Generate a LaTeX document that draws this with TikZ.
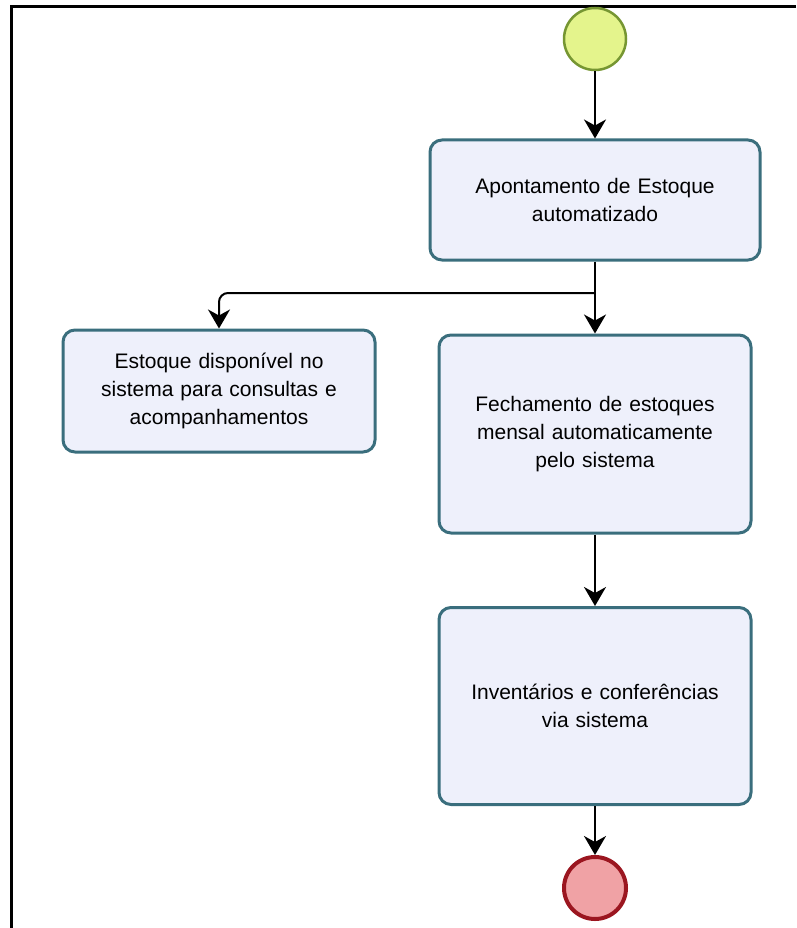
\documentclass[tikz,border=0pt]{standalone}
\usepackage{fontspec}
\setmainfont{Liberation Sans}
\usetikzlibrary{arrows.meta}
\definecolor{taskfill}{RGB}{238,240,251}
\definecolor{taskline}{RGB}{58,110,125}
\definecolor{startfill}{RGB}{228,244,140}
\definecolor{startline}{RGB}{118,150,50}
\definecolor{endfill}{RGB}{240,162,165}
\definecolor{endline}{RGB}{155,22,32}

\begin{document}
\begin{tikzpicture}[x = 1pt, y = -1pt]
\tikzstyle{taskStyle} = [shape = rectangle, rounded corners = 12pt, draw = taskline, line width = 3pt, fill = taskfill, align = center, text width = 290pt, font = \fontsize{21}{28}\selectfont]
\tikzstyle{startStyle} = [shape = circle, minimum size = 62pt, inner sep = 0pt, draw = startline, line width = 2.5pt, fill = startfill]
\tikzstyle{endStyle} = [shape = circle, minimum size = 62pt, inner sep = 0pt, draw = endline, line width = 4pt, fill = endfill]
\tikzstyle{flowStyle} = [draw, line width = 2pt, -{Stealth[length = 19pt, width = 22pt, inset = 6pt]}]
\useasboundingbox (0,0) rectangle (796,928);
\draw[line width = 2.5pt] (796,6.5) -- (11.5,6.5) -- (11.5,928);
\node[startStyle] (start) at (595,39) {};
\node[taskStyle, minimum width = 330pt, minimum height = 120pt] (apont) at (595,200) {Apontamento de Estoque\\automatizado};
\node[taskStyle, minimum width = 312pt, minimum height = 122pt] (disp) at (219,391) {Estoque disponível no\\sistema para consultas e\\acompanhamentos};
\node[taskStyle, minimum width = 312pt, minimum height = 198pt] (fech) at (595,434) {Fechamento de estoques\\mensal automaticamente\\pelo sistema};
\node[taskStyle, minimum width = 312pt, minimum height = 197pt] (inv) at (595,706) {Inventários e conferências\\via sistema};
\node[endStyle] (end) at (595,888) {};
\coordinate (split) at (595,293);
\draw[flowStyle] (start) -- (apont);
\draw[flowStyle] (apont) -- (fech);
\draw[flowStyle, rounded corners = 9pt] (split) -| (disp.north);
\draw[flowStyle] (fech) -- (inv);
\draw[flowStyle] (inv) -- (end);
\end{tikzpicture}
\end{document}
